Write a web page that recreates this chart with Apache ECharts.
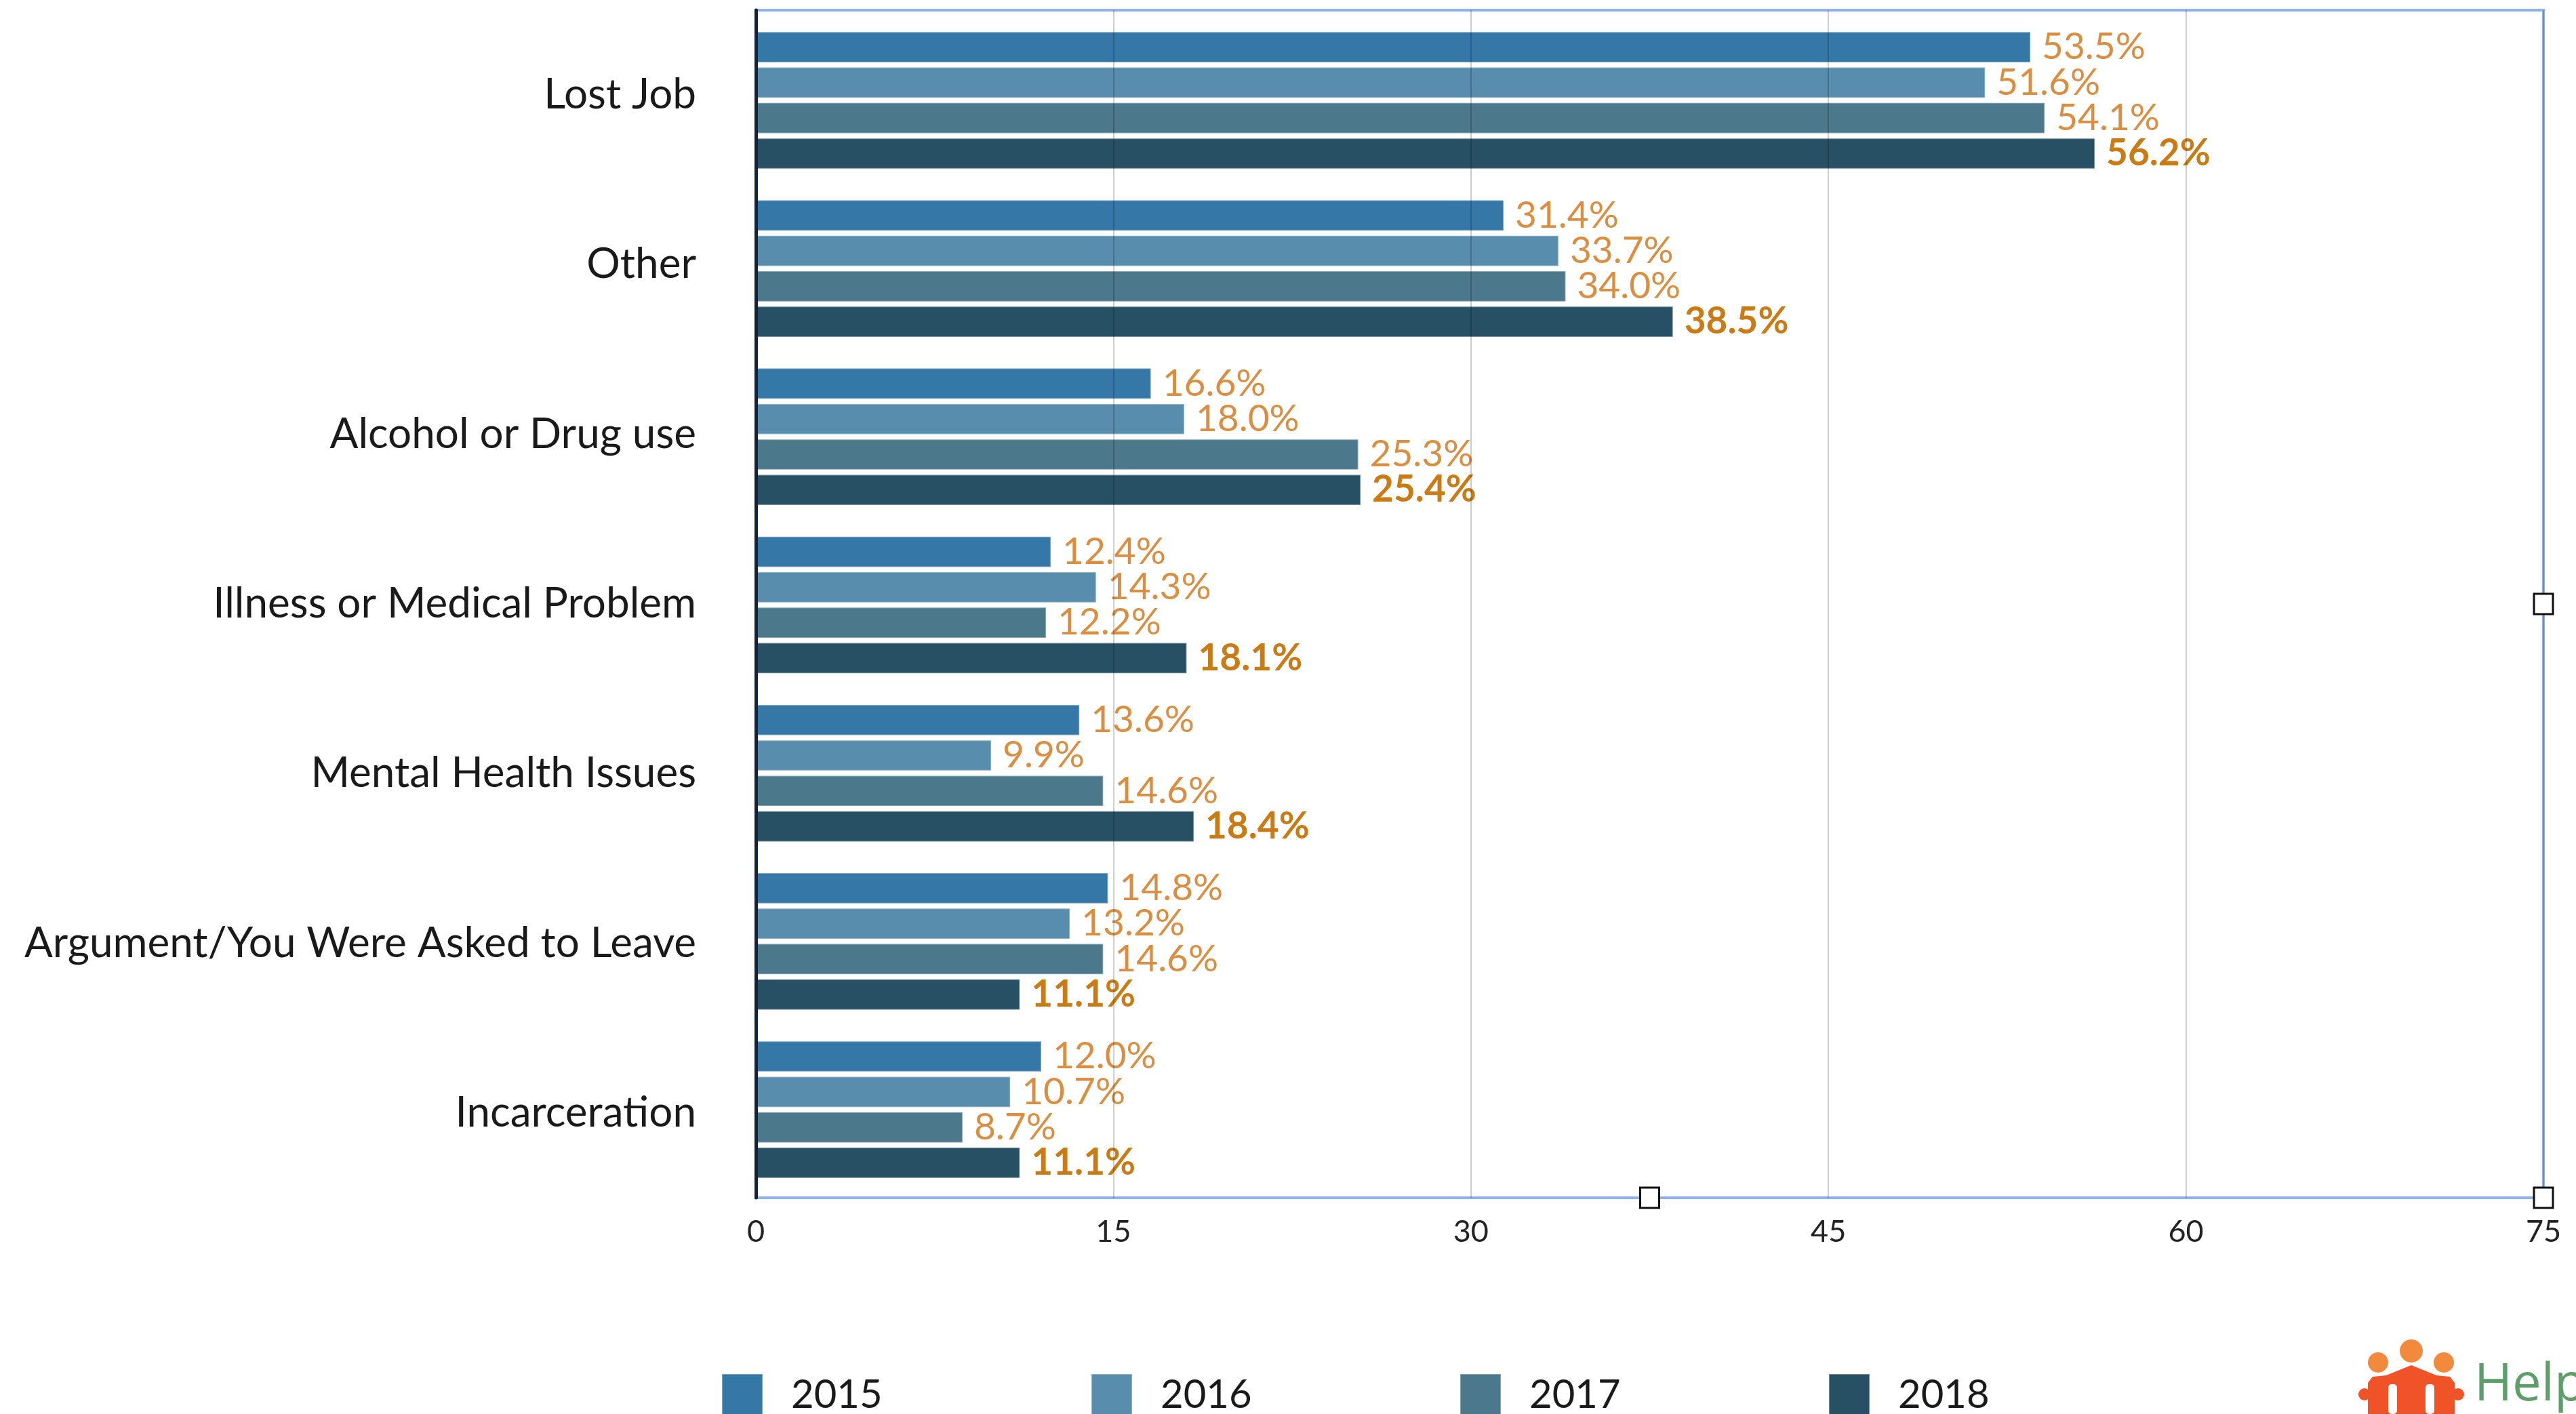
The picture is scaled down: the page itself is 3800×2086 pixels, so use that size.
<!DOCTYPE html>
<html>
<head>
<meta charset="utf-8">
<script src="https://cdn.jsdelivr.net/npm/echarts@6/dist/echarts.min.js"></script>
<style>
html,body{margin:0;padding:0;background:#fff;}
#chart{width:3800px;height:2086px;}
</style>
</head>
<body>
<div id="chart"></div>
<script>
const categories = ["Lost Job","Other","Alcohol or Drug use","Illness or Medical Problem","Mental Health Issues","Argument/You Were Asked to Leave","Incarceration"];
const years = ["2015","2016","2017","2018"];
const values2015 = [53.5, 31.4, 16.6, 12.4, 13.6, 14.8, 12.0];
const values2016 = [51.6, 33.7, 18.0, 14.3, 9.9, 13.2, 10.7];
const values2017 = [54.1, 34.0, 25.3, 12.2, 14.6, 14.6, 8.7];
const values2018 = [56.2, 38.5, 25.4, 18.1, 18.4, 11.1, 11.1];
const xTicks = [0, 15, 30, 45, 60, 75];

const seriesValues = [values2015, values2016, values2017, values2018];
const colors = ['#3578A8', '#598DAD', '#4B798B', '#285064'];

const W = 3800, H = 2086;
const frameLeft = 1115, frameRight = 48, frameTop = 15, frameBottom = 319;
const plotR = W - frameRight, plotB = H - frameBottom;

const chart = echarts.init(document.getElementById('chart'), null, {renderer: 'canvas', devicePixelRatio: 1});

const series = years.map((y, i) => ({
  name: y,
  type: 'bar',
  data: seriesValues[i],
  xAxisIndex: 0, yAxisIndex: 0,
  barCategoryGap: '18%',
  barGap: '12%',
  itemStyle: {color: colors[i], borderColor: 'rgba(255,255,255,0.35)', borderWidth: 2},
  label: {
    show: true,
    position: 'right',
    distance: 16,
    formatter: p => p.value.toFixed(1) + '%',
    fontFamily: 'Lato',
    fontSize: 55,
    fontWeight: i === 3 ? 'bold' : 'normal',
    color: i === 3 ? '#C97B16' : '#D98E42'
  },
  emphasis: {disabled: true},
  animation: false,
  z: 2
}));

const legendLefts = [1064, 1609, 2153, 2697];

function handle(cx, cy) {
  return {type: 'rect', shape: {x: cx - 14, y: cy - 15, width: 28, height: 30},
    style: {fill: '#fff', stroke: '#111', lineWidth: 3}, z: 100};
}

chart.setOption({
  backgroundColor: '#fff',
  animation: false,
  grid: [
    // bars
    {left: frameLeft, right: frameRight, top: 24, bottom: 325, show: false},
    // frame, gridlines, category labels and left axis line
    {left: frameLeft, right: frameRight, top: frameTop, bottom: frameBottom,
      show: true, borderColor: '#91AFF3', borderWidth: 4, backgroundColor: 'transparent'}
  ],
  xAxis: [
    {
      gridIndex: 0, type: 'value', min: 0, max: 75, interval: 15,
      axisLine: {show: false}, axisTick: {show: false},
      splitLine: {show: false}, axisLabel: {show: false}
    },
    {
      gridIndex: 1, type: 'value', min: 0, max: 75, interval: 15, z: 10,
      axisLine: {show: false}, axisTick: {show: false},
      axisLabel: {fontFamily: 'Lato', fontSize: 45, color: '#222', margin: 28},
      splitLine: {show: true, lineStyle: {color: 'rgba(0,0,0,0.2)', width: 2}}
    }
  ],
  yAxis: [
    {
      gridIndex: 0, type: 'category', data: categories, inverse: true,
      axisLine: {show: false}, axisTick: {show: false},
      splitLine: {show: false}, axisLabel: {show: false}
    },
    {
      gridIndex: 1, type: 'category', data: categories, inverse: true, z: 11,
      axisLine: {show: true, lineStyle: {color: '#14213D', width: 5}},
      axisTick: {show: false}, splitLine: {show: false},
      axisLabel: {fontFamily: 'Lato', fontSize: 62, color: '#1A1A1A', margin: 88}
    }
  ],
  legend: years.map((y, i) => ({
    data: [y], left: legendLefts[i], top: 2026, orient: 'horizontal',
    icon: 'rect', itemWidth: 60, itemHeight: 62, selectedMode: false,
    padding: 0,
    textStyle: {fontFamily: 'Lato', fontSize: 58, color: '#1A1A1A', padding: [0, 0, 0, 37]}
  })),
  series: series,
  graphic: [
    handle(plotR, (frameTop + plotB) / 2),
    handle((frameLeft + plotR) / 2, plotB),
    handle(plotR, plotB),
    // logo
    {type: 'circle', shape: {cx: 3508, cy: 2010, r: 15}, style: {fill: '#F28A3E'}},
    {type: 'circle', shape: {cx: 3557, cy: 1993, r: 17}, style: {fill: '#F28A3E'}},
    {type: 'circle', shape: {cx: 3605, cy: 2010, r: 15}, style: {fill: '#F28A3E'}},
    {type: 'polygon', shape: {points: [[3493,2040],[3500,2031],[3520,2029],[3557,2014],[3594,2029],[3614,2031],[3621,2040],[3621,2086],[3493,2086]]}, style: {fill: '#F05327'}},
    {type: 'circle', shape: {cx: 3488, cy: 2057, r: 9}, style: {fill: '#F05327'}},
    {type: 'circle', shape: {cx: 3626, cy: 2057, r: 9}, style: {fill: '#F05327'}},
    {type: 'rect', shape: {x: 3523, y: 2042, width: 13, height: 44, r: 5}, style: {fill: '#fff'}},
    {type: 'rect', shape: {x: 3578, y: 2042, width: 13, height: 44, r: 5}, style: {fill: '#fff'}},
    {type: 'text', style: {text: 'Help', x: 3650, y: 2044, fontFamily: 'Open Sans', fontSize: 76, fill: '#5E9E68', verticalAlign: 'middle'}}
  ]
});
</script>
</body>
</html>
